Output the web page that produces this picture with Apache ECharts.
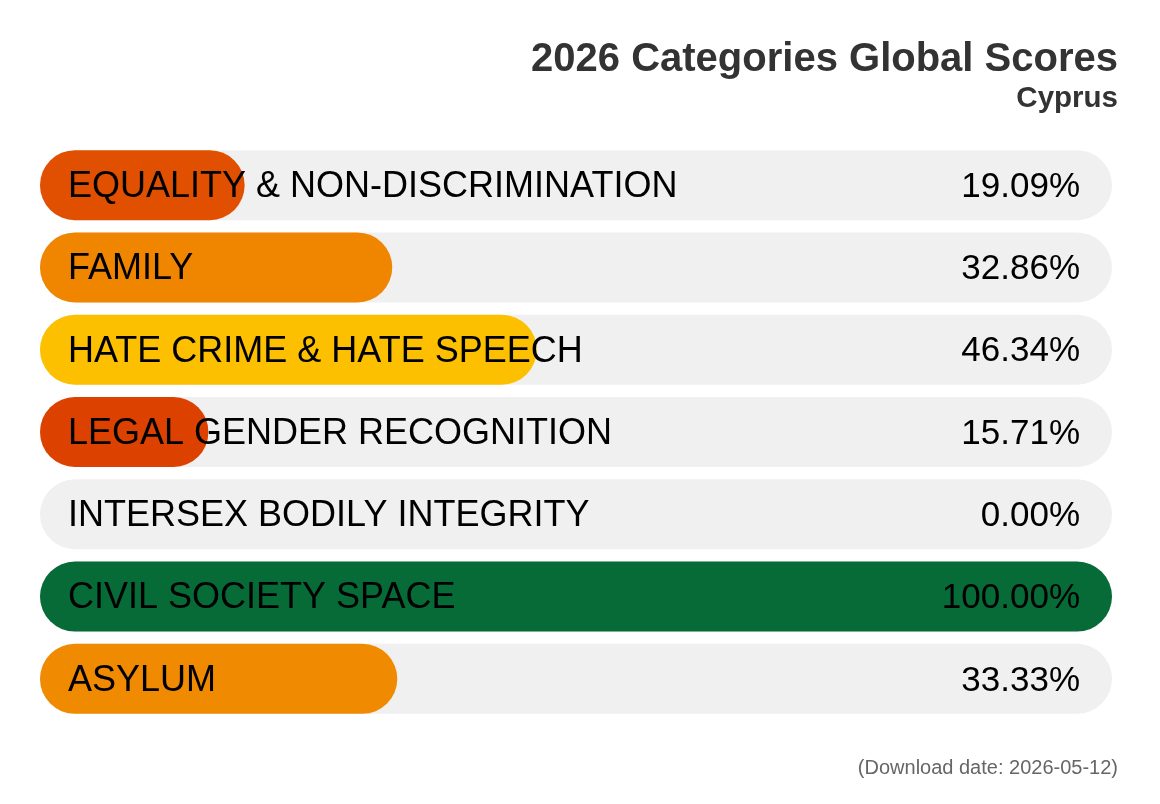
<!DOCTYPE html>
<html lang="en">
<head>
<meta charset="UTF-8">
<title>2026 Categories Global Scores</title>
<script src="https://cdn.jsdelivr.net/npm/echarts@6/dist/echarts.min.js"></script>
<style>
  html, body { margin: 0; padding: 0; background: #fff; }
  #chart { width: 1160px; height: 804px; }
</style>
</head>
<body>
<div id="chart"></div>
<script>
  var categories = [
    'EQUALITY & NON-DISCRIMINATION',
    'FAMILY',
    'HATE CRIME & HATE SPEECH',
    'LEGAL GENDER RECOGNITION',
    'INTERSEX BODILY INTEGRITY',
    'CIVIL SOCIETY SPACE',
    'ASYLUM'
  ];
  var scores = [19.09, 32.86, 46.34, 15.71, 0.00, 100.00, 33.33];
  var barColors = ['#e05000', '#f08600', '#fcc000', '#dd4100', '#d93a00', '#066b37', '#f08a00'];
  var maxScore = 100;

  var chart = echarts.init(document.getElementById('chart'));
  var font = '"Liberation Sans", Arial, sans-serif';

  var option = {
    animation: false,
    title: [{
      text: '2026 Categories Global Scores',
      right: 37,
      top: 35,
      textStyle: { fontFamily: font, fontSize: 40, fontWeight: 'bold', color: '#333' }
    }, {
      text: 'Cyprus',
      right: 37,
      top: 79,
      textStyle: { fontFamily: font, fontSize: 29.5, fontWeight: 'bold', color: '#333' }
    }, {
      text: '(Download date: 2026-05-12)',
      right: 37,
      top: 753,
      textStyle: { fontFamily: font, fontSize: 20, fontWeight: 'normal', color: '#666' }
    }],
    grid: { left: 40, right: 48, top: 144, bottom: 84 },
    xAxis: { type: 'value', min: 0, max: maxScore, show: false },
    yAxis: {
      type: 'category',
      data: categories,
      inverse: true,
      show: false
    },
    series: [{
      // the score bars on a grey track
      name: 'score',
      type: 'bar',
      barWidth: 70,
      z: 2,
      data: scores.map(function (v, i) {
        return { value: v, itemStyle: { color: barColors[i] } };
      }),
      itemStyle: { borderRadius: 35 },
      showBackground: true,
      backgroundStyle: { color: '#f0f0f0', borderRadius: 35 }
    }, {
      // category names, carried by an invisible full-length bar
      name: 'names',
      type: 'bar',
      barWidth: 70,
      barGap: '-100%',
      z: 3,
      silent: true,
      data: categories.map(function () { return maxScore; }),
      itemStyle: { color: 'rgba(0,0,0,0)' },
      label: {
        show: true,
        position: 'insideLeft',
        distance: 28,
        offset: [0, 2],
        formatter: function (p) { return categories[p.dataIndex]; },
        fontFamily: font,
        fontSize: 36,
        color: '#000'
      }
    }, {
      // score text on the right end of each track
      name: 'values',
      type: 'bar',
      barWidth: 70,
      barGap: '-100%',
      z: 3,
      silent: true,
      data: categories.map(function () { return maxScore; }),
      itemStyle: { color: 'rgba(0,0,0,0)' },
      label: {
        show: true,
        position: 'insideRight',
        distance: 32,
        offset: [0, 2],
        formatter: function (p) { return scores[p.dataIndex].toFixed(2) + '%'; },
        fontFamily: font,
        fontSize: 35,
        color: '#000'
      }
    }]
  };

  chart.setOption(option);
</script>
</body>
</html>
